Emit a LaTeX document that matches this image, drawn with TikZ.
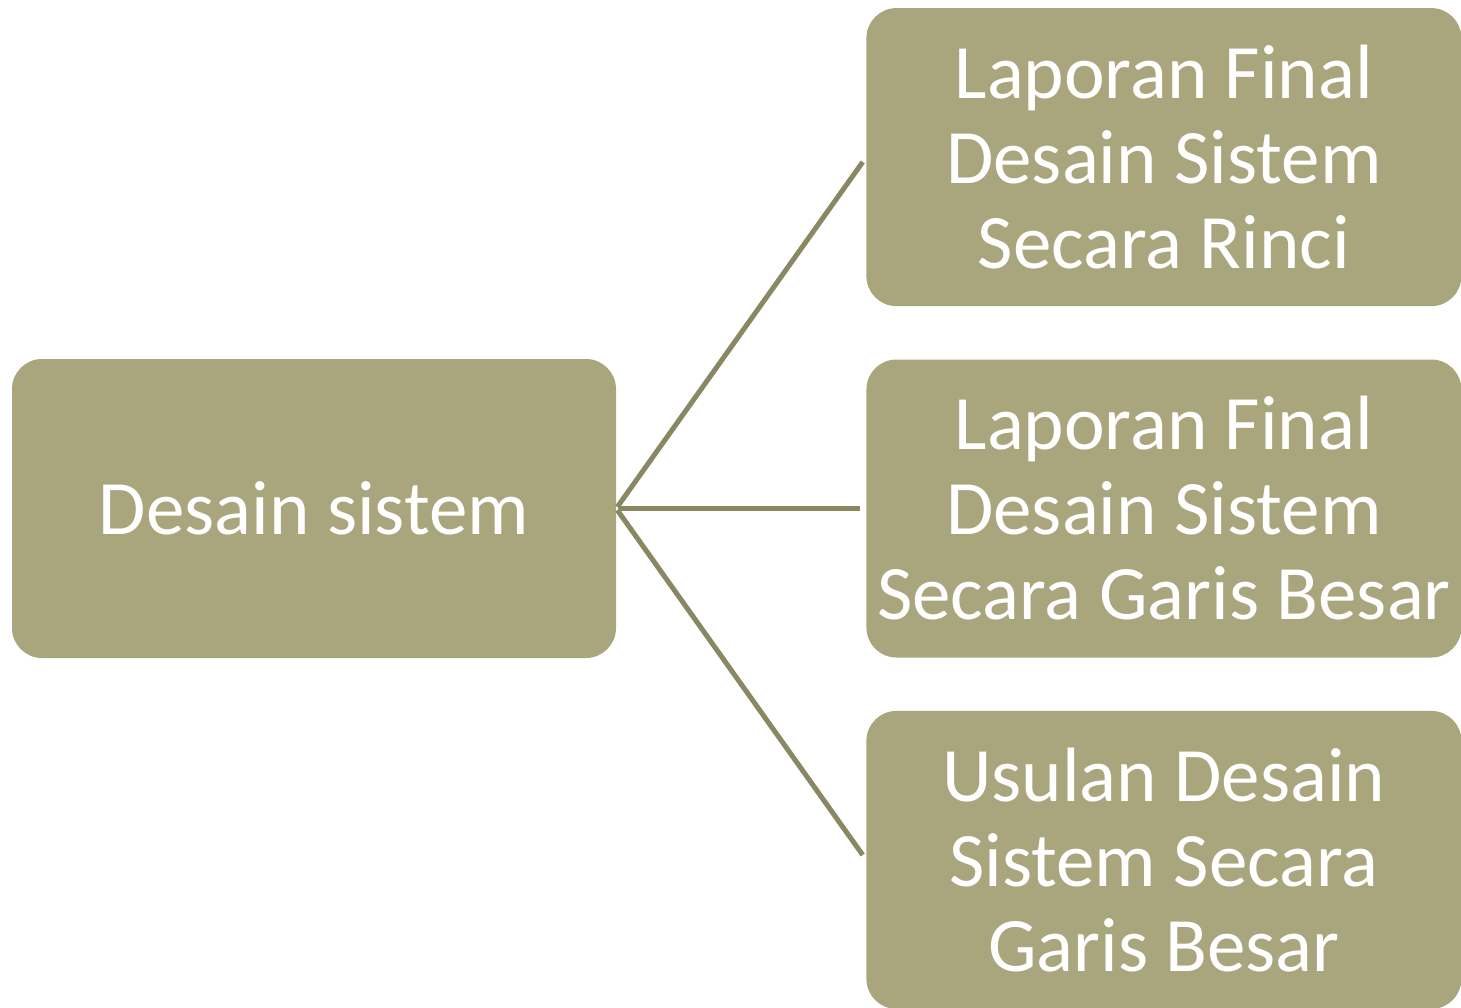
\documentclass[tikz,border=0pt]{standalone}
\usepackage{fontspec}
\setmainfont{Carlito}
\usetikzlibrary{positioning}
\definecolor{olivebox}{HTML}{A9A57C}
\definecolor{oliveline}{HTML}{8A8763}

\begin{document}
\begin{tikzpicture}[x=1pt,y=-1pt]
	\tikzstyle{block} = [fill=olivebox, rounded corners=30pt, text=white, align=center, inner sep=0pt, minimum width=595pt, minimum height=298pt, font=\fontsize{77}{85}\selectfont]
	\tikzstyle{link} = [draw=oliveline, line width=5pt, shorten >=6pt, shorten <=2pt]
	
	\useasboundingbox (0,0) rectangle (1461,1007);
	
	\node [block, minimum width=604pt, minimum height=299pt] (desain) at (314,508.5) {Desain sistem};
	
	\node [block, right = 250pt of desain] (garis) {Laporan Final\\Desain Sistem\\Secara Garis Besar};
	
	\node [block, above = 53pt of garis] (rinci) {Laporan Final\\Desain Sistem\\Secara Rinci};
	
	\node [block, below = 53pt of garis] (usulan) {Usulan Desain\\Sistem Secara\\Garis Besar};
	
	\draw [link] (desain.east) -- (rinci.west);
	
	\draw [link] (desain.east) -- (garis.west);
	
	\draw [link] (desain.east) -- (usulan.west);
	
\end{tikzpicture}
\end{document}
